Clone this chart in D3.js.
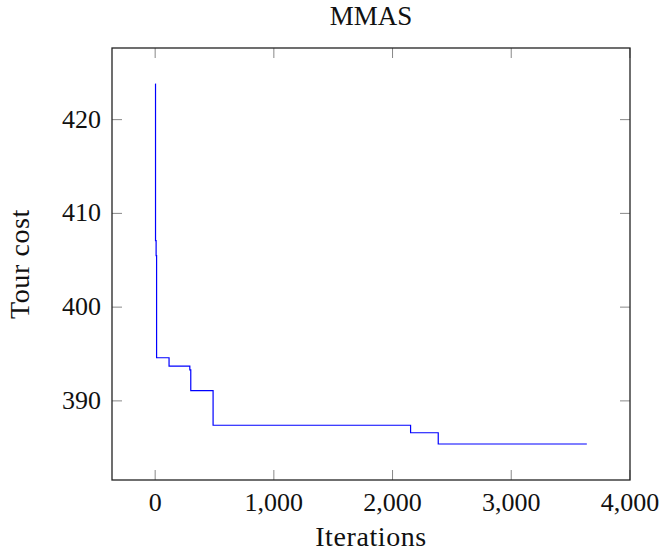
<!DOCTYPE html>
<html>
<head>
<meta charset="utf-8">
<script src="https://cdn.jsdelivr.net/npm/d3@7"></script>
<style>
  body { margin: 0; background: #fff; }
  svg { font-family: "Liberation Serif", "DejaVu Serif", serif; }
</style>
</head>
<body>
<svg width="661" height="552"></svg>
<script>
const width = 661, height = 552;

// best tour cost found so far, at the iterations where it changed
const iterations = [0, 3, 8, 12, 117, 292, 300, 488, 2152, 2385, 3637];
const costs = [423.8, 407.1, 405.5, 394.6, 393.7, 393.3, 391.1, 387.4, 386.6, 385.4, 385.4];

const xTicks = [0, 1000, 2000, 3000, 4000];
const yTicks = [390, 400, 410, 420];

const margin = { left: 112, top: 48, right: 31, bottom: 72 };
const w = width - margin.left - margin.right;
const h = height - margin.top - margin.bottom;

const svg = d3.select("svg");
const g = svg.append("g").attr("transform", `translate(${margin.left},${margin.top})`);

// pgfplots style: enlarge limits by 10% of the data range
const xr = d3.extent(iterations), yr = d3.extent(costs);
const xpad = (xr[1] - xr[0]) * 0.1, ypad = (yr[1] - yr[0]) * 0.1;

const x = d3.scaleLinear().domain([xr[0] - xpad, xr[1] + xpad]).range([0, w]);
const y = d3.scaleLinear().domain([yr[0] - ypad, yr[1] + ypad]).range([h, 0]);

const tickLen = 10;

// ticks on all four sides, pointing inside
g.selectAll(".xt")
    .data(xTicks)
    .enter().append("g")
    .each(function(d) {
        const s = d3.select(this);
        s.append("line").attr("x1", x(d)).attr("x2", x(d)).attr("y1", h).attr("y2", h - tickLen);
        s.append("line").attr("x1", x(d)).attr("x2", x(d)).attr("y1", 0).attr("y2", tickLen);
    })
    .selectAll("line")
    .style("stroke", "#888")
    .style("stroke-width", 1);

g.selectAll(".yt")
    .data(yTicks)
    .enter().append("g")
    .each(function(d) {
        const s = d3.select(this);
        s.append("line").attr("x1", 0).attr("x2", tickLen).attr("y1", y(d)).attr("y2", y(d));
        s.append("line").attr("x1", w).attr("x2", w - tickLen).attr("y1", y(d)).attr("y2", y(d));
    })
    .selectAll("line")
    .style("stroke", "#888")
    .style("stroke-width", 1);

// tick labels
g.selectAll(".xl")
    .data(xTicks)
    .enter().append("text")
    .attr("x", d => x(d))
    .attr("y", h + 31)
    .attr("text-anchor", "middle")
    .attr("font-size", "26px")
    .attr("fill", "#111")
    .text(d => d3.format(",")(d));

g.selectAll(".yl")
    .data(yTicks)
    .enter().append("text")
    .attr("x", -11)
    .attr("y", d => y(d) + 8)
    .attr("text-anchor", "end")
    .attr("font-size", "26px")
    .attr("fill", "#111")
    .text(d => d);

// the step line
const line = d3.line()
    .x((d, i) => x(iterations[i]))
    .y(d => y(d))
    .curve(d3.curveStepAfter);

g.append("path")
    .datum(costs)
    .attr("d", line)
    .attr("fill", "none")
    .style("stroke", "#0000ff")
    .style("stroke-width", 1.2);

// frame
g.append("rect")
    .attr("width", w)
    .attr("height", h)
    .attr("fill", "none")
    .style("stroke", "#222")
    .style("stroke-width", 1.3);

// title and axis labels
svg.append("text")
    .attr("x", margin.left + w / 2)
    .attr("y", 25)
    .attr("text-anchor", "middle")
    .attr("font-size", "27px")
    .attr("fill", "#111")
    .text("MMAS");

svg.append("text")
    .attr("x", margin.left + w / 2)
    .attr("y", 546)
    .attr("text-anchor", "middle")
    .attr("font-size", "28px")
    .attr("letter-spacing", "0.6px")
    .attr("fill", "#111")
    .text("Iterations");

svg.append("text")
    .attr("transform", `translate(29,${margin.top + h / 2}) rotate(-90)`)
    .attr("text-anchor", "middle")
    .attr("font-size", "28px")
    .attr("letter-spacing", "0.6px")
    .attr("fill", "#111")
    .text("Tour cost");
</script>
</body>
</html>
